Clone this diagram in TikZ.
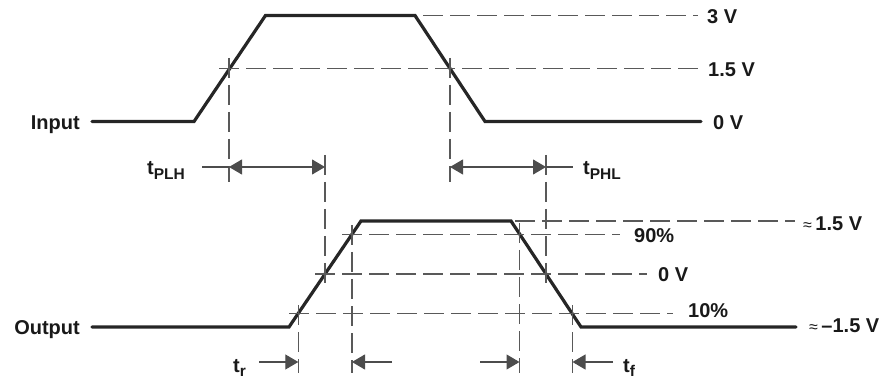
\documentclass[tikz,border=0pt]{standalone}
\usepackage{fontspec}
\setmainfont{Liberation Sans}
\usetikzlibrary{arrows.meta}
\newcommand{\apx}{{\mdseries\fontsize{16}{16}\selectfont ≈}\hspace{3.5pt}}
\newcommand{\subtx}[1]{{\fontsize{15.5}{15.5}\selectfont\raisebox{-4.5pt}{#1}}}
\begin{document}
\begin{tikzpicture}[x=1pt,y=-1pt,
  wave/.style={draw=black!85, line width=3.2pt, line join=miter, line cap=round},
  guide/.style={draw=black!65, line width=1.1pt, dash pattern=on 20pt off 7pt},
  leader/.style={draw=black!70, line width=1.1pt},
  dimtip/.style={leader, -{Triangle[length=13pt,width=15pt]}},
  dimboth/.style={leader, {Triangle[length=13pt,width=15pt]}-{Triangle[length=13pt,width=15pt]}},
  lbl/.style={font=\bfseries\fontsize{20}{20}\selectfont, text=black!90, inner sep=0pt}]
\useasboundingbox (0,0) rectangle (891,379);

% input waveform
\coordinate (i0) at (92,121.5);
\coordinate (i1) at (194,121.5);
\coordinate (i2) at (265.5,15.5);
\coordinate (i3) at (415,15.5);
\coordinate (i4) at (485,121.5);
\coordinate (i5) at (701,121.5);
\draw[wave] (i0) -- (i1) -- (i2) -- (i3) -- (i4) -- (i5);

% output waveform
\coordinate (o0) at (92,327);
\coordinate (o1) at (289,327);
\coordinate (o2) at (361,221);
\coordinate (o3) at (511,221);
\coordinate (o4) at (581,327);
\coordinate (o5) at (796,327);
\draw[wave] (o0) -- (o1) -- (o2) -- (o3) -- (o4) -- (o5);

% horizontal guides
\coordinate (h3a) at (423,15.5);   \coordinate (h3b) at (698,15.5);
\coordinate (h15a) at (219,68.5);  \coordinate (h15b) at (698,68.5);
\coordinate (hpa) at (515,221);    \coordinate (hpb) at (795,221);
\coordinate (h90a) at (342,234.3); \coordinate (h90b) at (620,234.3);
\coordinate (h0a) at (315,274);    \coordinate (h0b) at (647,274);
\coordinate (h10a) at (289,313.3); \coordinate (h10b) at (673,313.3);
\draw[guide] (h3a) -- (h3b);
\draw[guide] (h15a) -- (h15b);
\draw[guide] (hpa) -- (hpb);
\draw[guide] (h90a) -- (h90b);
\draw[guide] (h0a) -- (h0b);
\draw[guide] (h10a) -- (h10b);

% vertical guides
\coordinate (v1a) at (229,58);    \coordinate (v1b) at (229,182);
\coordinate (v2a) at (450,58);    \coordinate (v2b) at (450,182);
\coordinate (v3a) at (325,155);   \coordinate (v3b) at (325,283);
\coordinate (v4a) at (546,155);   \coordinate (v4b) at (546,283);
\coordinate (v5a) at (298.3,305); \coordinate (v5b) at (298.3,373);
\coordinate (v6a) at (352,225);   \coordinate (v6b) at (352,373);
\coordinate (v7a) at (519.5,223); \coordinate (v7b) at (519.5,373);
\coordinate (v8a) at (572.5,305); \coordinate (v8b) at (572.5,373);
\foreach \v in {1,...,8} {\draw[guide] (v\v a) -- (v\v b);}

% propagation delay arrows
\coordinate (pl0) at (202,167); \coordinate (pl1) at (229,167); \coordinate (pl2) at (325,167);
\coordinate (ph1) at (450,167); \coordinate (ph2) at (546,167); \coordinate (ph3) at (573,167);
\draw[leader] (pl0) -- (pl1);
\draw[dimboth] (pl1) -- (pl2);
\draw[dimboth] (ph1) -- (ph2);
\draw[leader] (ph2) -- (ph3);

% rise/fall arrows
\coordinate (r0) at (259,362); \coordinate (r1) at (298.3,362);
\coordinate (r2) at (392,362); \coordinate (r3) at (352,362);
\coordinate (f0) at (480,362); \coordinate (f1) at (519.5,362);
\coordinate (f2) at (613,362); \coordinate (f3) at (572.5,362);
\draw[dimtip] (r0) -- (r1);
\draw[dimtip] (r2) -- (r3);
\draw[dimtip] (f0) -- (f1);
\draw[dimtip] (f2) -- (f3);

% labels
\node[lbl, anchor=base east] (lin) at (80,130) {Input};
\node[lbl, anchor=base east] (lout) at (80,334.5) {Output};
\node[lbl, anchor=base west] (l3v) at (707,24) {3 V};
\node[lbl, anchor=base west] (l15v) at (708,76.5) {1.5 V};
\node[lbl, anchor=base west] (l0vi) at (713,129.5) {0 V};
\node[lbl, anchor=base west] (lph) at (803,231) {\apx 1.5 V};
\node[lbl, anchor=base west] (lnh) at (809,332) {\apx –1.5 V};
\node[lbl, anchor=base west] (l90) at (634,243) {90\%};
\node[lbl, anchor=base west] (l0vo) at (658,281.5) {0 V};
\node[lbl, anchor=base west] (l10) at (688,317.5) {10\%};
\node[lbl, anchor=base west] (ltplh) at (147,175) {t\subtx{PLH}};
\node[lbl, anchor=base west] (ltphl) at (583,175) {t\subtx{PHL}};
\node[lbl, anchor=base west] (ltr) at (233,372) {t\subtx{r}};
\node[lbl, anchor=base west] (ltf) at (623,372) {t\subtx{f}};
\end{tikzpicture}
\end{document}
